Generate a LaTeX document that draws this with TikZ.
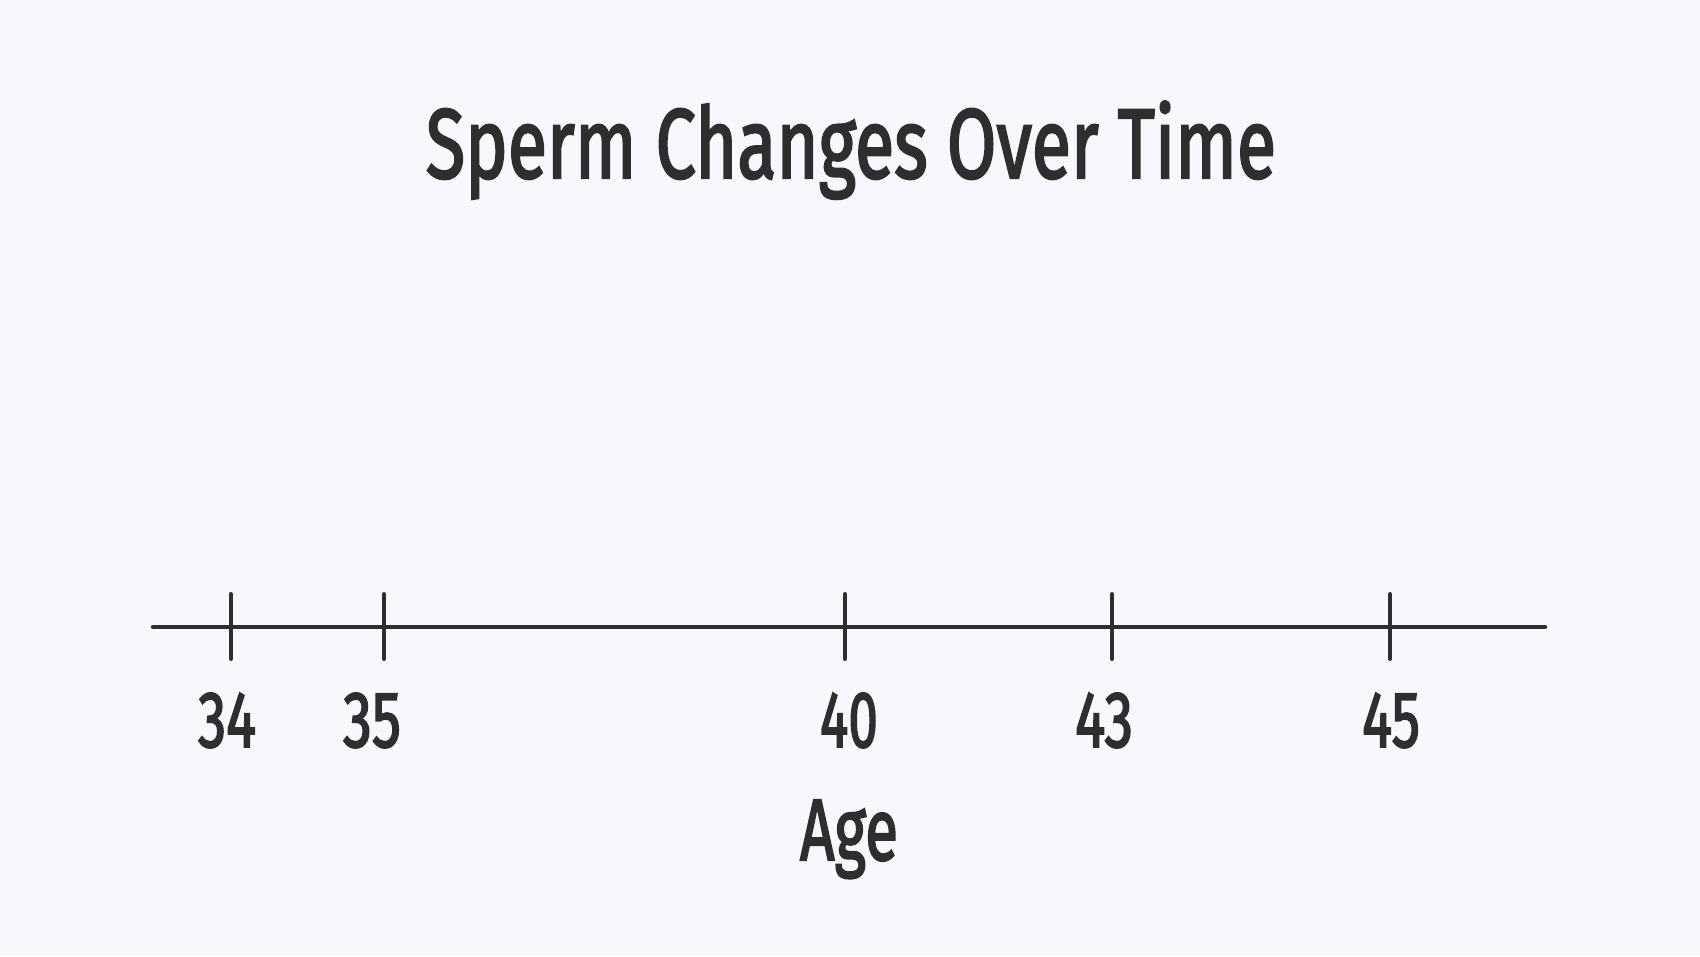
\documentclass[tikz,border=0pt]{standalone}
\usepackage{fontspec}
\setmainfont{Fira Sans}
\newfontfamily\hand[FakeBold=2.5]{Fira Sans}
\usepackage{graphicx}
\definecolor{bg}{HTML}{F7F8FD}
\definecolor{ink}{HTML}{2E2E2E}
\begin{document}
\begin{tikzpicture}[x=1pt,y=1pt,
  axisline/.style={draw=ink,line width=4.5pt,line cap=round},
  tickline/.style={draw=ink,line width=4pt,line cap=round},
  lbl/.style={anchor=base,inner sep=0pt,text=ink,font=\hand}]
\fill[bg] (0,0) rectangle (1700,956);
\useasboundingbox (0,0) rectangle (1700,956);
\node[lbl] (title) at (851,778) {\resizebox{850pt}{77pt}{Sperm Changes Over Time}};
\coordinate (L) at (153,329);
\coordinate (R) at (1545,329);
\draw[axisline] (L) -- (R);
\foreach \n/\x/\lx in {34/231/227,35/384/372,40/845/849,43/1112/1104,45/1390/1391}{
  \coordinate (t\n a) at (\x,362);
  \coordinate (t\n b) at (\x,297);
  \draw[tickline] (t\n a) -- (t\n b);
  \node[lbl] (n\n) at (\lx,209) {\resizebox{58pt}{54pt}{\n}};
}
\node[lbl] (age) at (849,96) {\resizebox{98pt}{60pt}{Age}};
\end{tikzpicture}
\end{document}
